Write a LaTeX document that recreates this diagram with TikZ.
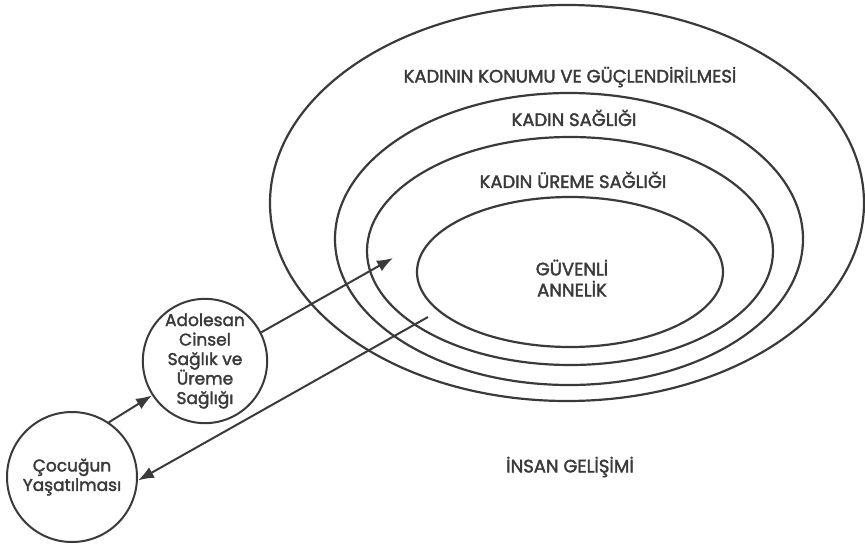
\documentclass[tikz,border=0pt]{standalone}
\usepackage{fontspec}
\setmainfont{Poppins}[FakeBold=2]
\usetikzlibrary{arrows.meta}
\definecolor{ink}{HTML}{3A3A3A}
\tikzset{
  ring/.style={draw=ink, line width=2.2pt},
  lbl/.style={text=ink, font=\fontsize{18}{21}\selectfont, align=center},
  topic/.style={circle, draw=ink, line width=2pt, inner sep=0pt, minimum size=124pt, align=center, text=ink, font=\fontsize{17}{19.5}\selectfont},
  link/.style={-{Latex[length=16pt,width=12pt]}, draw=ink, line width=2pt},
}
\begin{document}
\begin{tikzpicture}[x=1pt, y=-1pt]
\useasboundingbox (0,0) rectangle (865,544);

% nested fields
\draw[ring] (567,203) ellipse [x radius=297, y radius=198];
\draw[ring] (569,239) ellipse [x radius=234, y radius=146];
\draw[ring] (570,251) ellipse [x radius=203, y radius=114];
\draw[ring] (570,272) ellipse [x radius=153, y radius=75];

\node[lbl] (empower) at (570,77) {KADININ KONUMU VE GÜÇLENDİRİLMESİ};
\node[lbl] (health) at (574,118) {KADIN SAĞLIĞI};
\node[lbl] (repro) at (573,180) {KADIN ÜREME SAĞLIĞI};
\node[lbl] (safe) at (572,278) {GÜVENLİ\\ANNELİK};
\node[lbl] (human) at (570,467) {İNSAN GELİŞİMİ};

\node[topic] (teen) at (205,361) {Adolesan\\Cinsel\\Sağlık ve\\Üreme\\Sağlığı};
\node[topic, minimum size=130pt] (child) at (72,477) {Çocuğun\\Yaşatılması};

\coordinate (core) at (393,258);
\coordinate (tail) at (428,317);

\draw[link] (child.56) -- (teen.213);
\draw[link] (teen.27) -- (core);
\draw[link] (tail) -- (child.-3);

\end{tikzpicture}
\end{document}
